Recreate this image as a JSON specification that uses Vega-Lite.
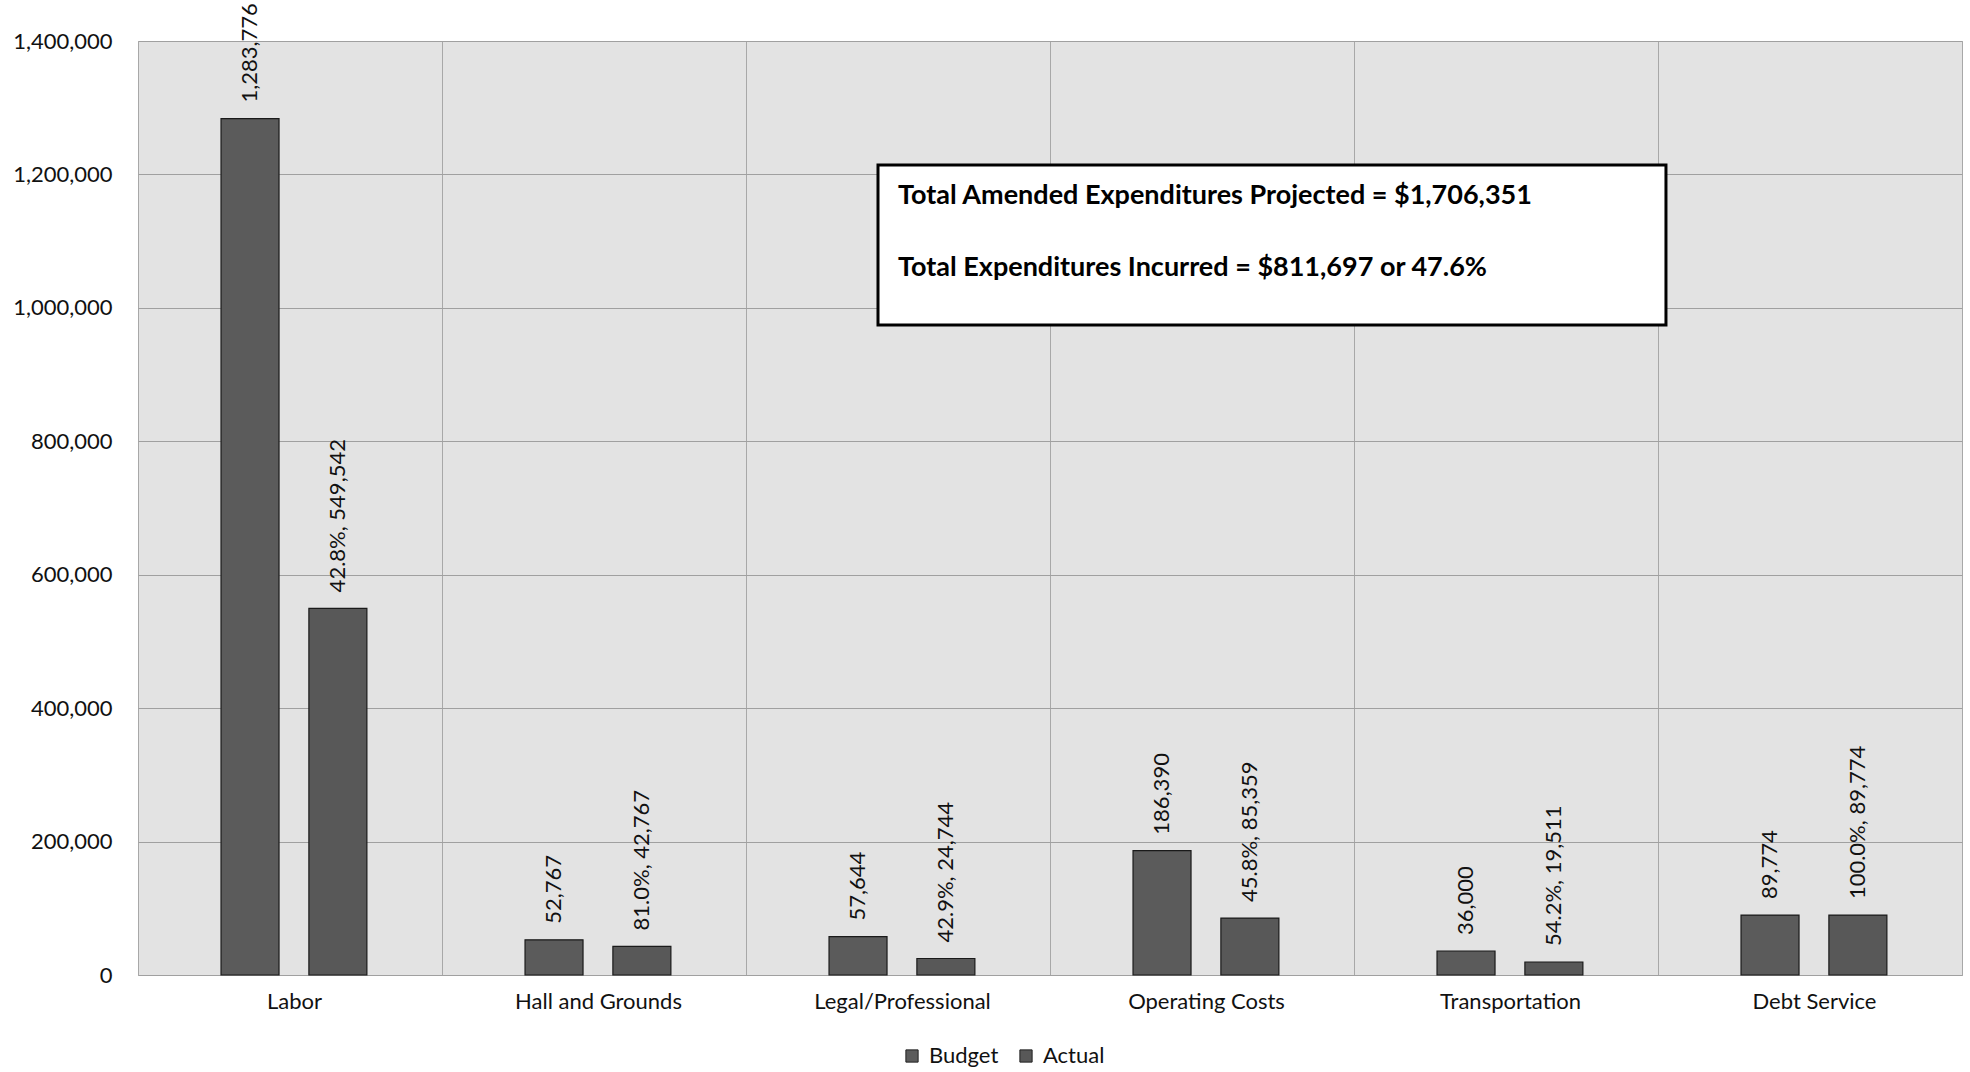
{
  "$schema": "https://vega.github.io/schema/vega-lite/v6.json",
  "width": 1824,
  "height": 934,
  "autosize": "none",
  "padding": {"left": 138, "top": 41, "right": 8, "bottom": 97},
  "background": "white",
  "config": {
    "font": "Lato",
    "view": {"fill": "#e3e3e3", "stroke": "#b0b0b0", "strokeWidth": 1}
  },
  "datasets": {
    "spend": [
      {"category": "Labor", "series": "Budget", "value": 1283776, "pct": null},
      {"category": "Labor", "series": "Actual", "value": 549542, "pct": 42.8},
      {"category": "Hall and Grounds", "series": "Budget", "value": 52767, "pct": null},
      {"category": "Hall and Grounds", "series": "Actual", "value": 42767, "pct": 81.0},
      {"category": "Legal/Professional", "series": "Budget", "value": 57644, "pct": null},
      {"category": "Legal/Professional", "series": "Actual", "value": 24744, "pct": 42.9},
      {"category": "Operating Costs", "series": "Budget", "value": 186390, "pct": null},
      {"category": "Operating Costs", "series": "Actual", "value": 85359, "pct": 45.8},
      {"category": "Transportation", "series": "Budget", "value": 36000, "pct": null},
      {"category": "Transportation", "series": "Actual", "value": 19511, "pct": 54.2},
      {"category": "Debt Service", "series": "Budget", "value": 89774, "pct": null},
      {"category": "Debt Service", "series": "Actual", "value": 89774, "pct": 100.0}
    ],
    "note": [
      {"x": 0.4057, "x2": 0.8377, "y": 1214000, "y2": 974300}
    ],
    "noteText": [
      {"x": 0.4167, "y": 1167700, "text": "Total Amended Expenditures Projected = $1,706,351"},
      {"x": 0.4167, "y": 1059700, "text": "Total Expenditures Incurred = $811,697 or 47.6%"}
    ]
  },
  "layer": [
    {
      "data": {"name": "spend"},
      "transform": [
        {"calculate": "datum.pct == null ? format(datum.value, ',d') : format(datum.pct, '.1f') + '%, ' + format(datum.value, ',d')", "as": "label"}
      ],
      "encoding": {
        "x": {
          "field": "category",
          "type": "nominal",
          "sort": null,
          "scale": {"paddingInner": 0, "paddingOuter": 0},
          "axis": {
            "title": null,
            "labelAngle": 0,
            "labelFontSize": 22,
            "labelColor": "#111",
            "labelPadding": 16,
            "labelOffset": 4,
            "ticks": false,
            "domain": false,
            "grid": true,
            "tickBand": "extent",
            "gridColor": "#a8a8a8",
            "gridWidth": 1
          }
        },
        "xOffset": {
          "field": "series",
          "type": "nominal",
          "sort": ["Budget", "Actual"],
          "scale": {"paddingInner": 0.34, "paddingOuter": 0.9, "align": 0.525}
        },
        "y": {
          "field": "value",
          "type": "quantitative",
          "scale": {"domain": [0, 1400000], "nice": false},
          "axis": {
            "title": null,
            "values": [0, 200000, 400000, 600000, 800000, 1000000, 1200000, 1400000],
            "format": ",d",
            "labelFontSize": 22,
            "labelColor": "#111",
            "labelPadding": 26,
            "ticks": false,
            "domain": false,
            "gridColor": "#a0a0a0",
            "gridWidth": 1
          }
        }
      },
      "layer": [
        {
          "mark": {"type": "bar", "stroke": "#1a1a1a", "strokeWidth": 1.2},
          "encoding": {
            "color": {
              "field": "series",
              "type": "nominal",
              "sort": ["Budget", "Actual"],
              "scale": {"domain": ["Budget", "Actual"], "range": ["#5b5b5b", "#585858"]},
              "legend": {
                "title": null,
                "orient": "none",
                "direction": "horizontal",
                "legendX": 763,
                "legendY": 1004,
                "symbolType": "square",
                "symbolSize": 150,
                "symbolStrokeColor": "#222",
                "symbolStrokeWidth": 1,
                "labelFontSize": 22,
                "labelColor": "#111",
                "labelOffset": 6,
                "columnPadding": 16
              }
            }
          }
        },
        {
          "mark": {"type": "text", "angle": -90, "align": "left", "baseline": "middle", "dx": 16, "fontSize": 22, "color": "#111"},
          "encoding": {"text": {"field": "label"}}
        }
      ]
    },
    {
      "layer": [
        {
          "data": {"name": "note"},
          "mark": {"type": "rect", "fill": "white", "stroke": "black", "strokeWidth": 3},
          "encoding": {
            "x": {"field": "x", "type": "quantitative", "scale": {"domain": [0, 1]}, "axis": null},
            "x2": {"field": "x2"},
            "y": {"field": "y", "type": "quantitative"},
            "y2": {"field": "y2"}
          }
        },
        {
          "data": {"name": "noteText"},
          "mark": {"type": "text", "align": "left", "baseline": "middle", "fontSize": 27, "fontWeight": "bold", "color": "black"},
          "encoding": {
            "x": {"field": "x", "type": "quantitative", "scale": {"domain": [0, 1]}, "axis": null},
            "y": {"field": "y", "type": "quantitative"},
            "text": {"field": "text"}
          }
        }
      ]
    }
  ],
  "resolve": {"scale": {"x": "independent"}, "axis": {"x": "independent"}}
}
